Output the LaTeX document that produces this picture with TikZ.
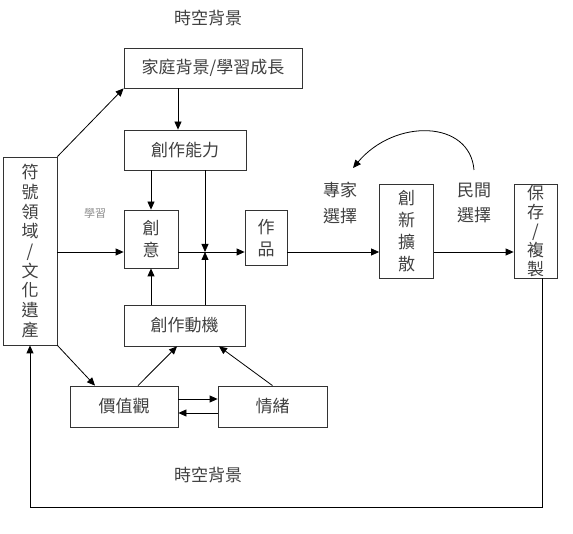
\documentclass[tikz,border=0pt]{standalone}
\usepackage{fontspec}
\newfontfamily\cjk{Noto Sans CJK TC}
\usetikzlibrary{arrows.meta,positioning,calc}

\tikzset{
  blk/.style={draw=black!80, line width=0.8pt, inner sep=0pt, align=center,
    text=black!75, font=\cjk\fontsize{17}{22}\selectfont},
  lbl/.style={inner sep=0pt, align=center, text=black!75,
    font=\cjk\fontsize{17}{25}\selectfont},
}

\begin{document}
\begin{tikzpicture}[>={Triangle[length=8pt,width=7pt]}, x=1pt, y=-1pt, line width=0.8pt]
  \useasboundingbox (0,0) rectangle (573,534);

  % boxes
  \node[blk, minimum width=178pt, minimum height=40pt] (fam) at (213,68) {家庭背景/學習成長};
  \node[blk, minimum width=122pt, minimum height=40pt] (abil) at (185,150) {創作能力};
  \node[blk, minimum width=54pt, minimum height=58pt] (idea) at (151,239) {創\\意};
  \node[blk, minimum width=42pt, minimum height=55pt] (work) at (266,238) {作\\品};
  \node[blk, minimum width=54pt, minimum height=94pt] (diff) at (406.5,231) {創\\新\\擴\\散};
  \node[blk, minimum width=43pt, minimum height=94pt, font=\cjk\fontsize{17}{19}\selectfont] (keep) at (535.5,231) {保\\存\\/\\複\\製};
  \node[blk, minimum width=54pt, minimum height=188pt, font=\cjk\fontsize{17}{19.7}\selectfont] (dom) at (30,251) {符\\號\\領\\域\\/\\文\\化\\遺\\產};
  \node[blk, minimum width=121pt, minimum height=41pt] (moti) at (184.5,325.5) {創作動機};
  \node[blk, minimum width=108pt, minimum height=41pt] (val) at (124,406.5) {價值觀};
  \node[blk, minimum width=109pt, minimum height=41pt] (emo) at (272.5,406.5) {情緒};

  % labels
  \node[lbl] (ttop) at (208,18) {時空背景};
  \node[lbl] (tbot) at (208,475) {時空背景};
  \node[lbl, text=black!45, font=\cjk\fontsize{11}{13}\selectfont] (lrn) at (95,213) {學習};
  \node[lbl] (sel1) at (340,203) {專家\\選擇};
  \node[lbl] (sel2) at (474,203) {民間\\選擇};

  \coordinate (jn) at (205,252);
  \coordinate (bot) at (0,507);
  \coordinate (cv1) at (474,170);
  \coordinate (cv2) at (353,168);

  % connectors
  \draw[->] ([xshift=-35pt]fam.south) -- ([xshift=-35pt]fam.south |- abil.north);
  \draw[->] (idea.north |- abil.south) -- (idea.north);
  \draw[->] (jn |- abil.south) -- (jn);
  \draw[->] (idea.south |- moti.north) -- (idea.south);
  \draw[->] (jn |- moti.north) -- (jn);
  \draw[->] (dom.east |- jn) -- (idea.west |- jn);
  \draw[->] (idea.east |- jn) -- (work.west |- jn);
  \draw[->] (work.east |- jn) -- (diff.west |- jn);
  \draw[->] (diff.east |- jn) -- (keep.west |- jn);
  \draw[->] (dom.north east) -- (fam.south west);
  \draw[->] (dom.south east) -- ([xshift=-29pt]val.north);
  \draw[->] ([xshift=14pt]val.north) -- ([xshift=-7.5pt]moti.south);
  \draw[->] (emo.north) -- ([xshift=34.5pt]moti.south);
  \draw[->] ([yshift=7.5pt]val.east) -- ([yshift=7.5pt]val.east -| emo.west);
  \draw[->] ([yshift=-6.5pt]emo.west) -- ([yshift=-6.5pt]emo.west -| val.east);
  \draw[->] ([xshift=6.5pt]keep.south) |- (bot -| dom.south) -- (dom.south);
  \draw[->] (cv1) .. controls (470,120) and (395,118) .. (cv2);
\end{tikzpicture}
\end{document}
